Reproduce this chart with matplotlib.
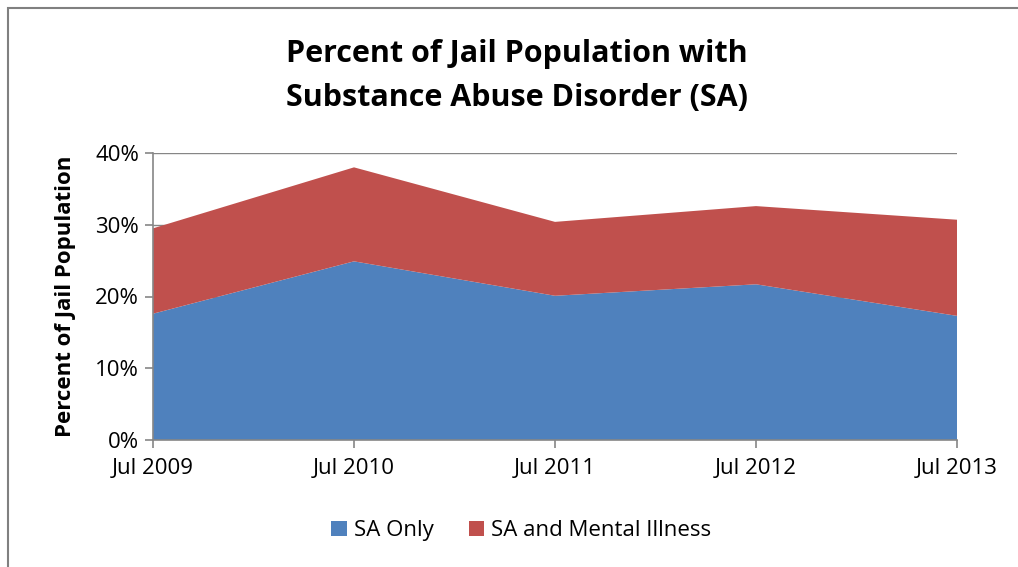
import matplotlib.pyplot as plt
from matplotlib.patches import Rectangle
from matplotlib.ticker import FuncFormatter

dates = ["Jul 2009", "Jul 2010", "Jul 2011", "Jul 2012", "Jul 2013"]
sa_only = [17.6, 24.9, 20.1, 21.7, 17.3]
sa_mental = [11.9, 13.1, 10.3, 10.9, 13.4]

plt.rcParams['font.family'] = ['Open Sans', 'DejaVu Sans']

fig = plt.figure(figsize=(10.18, 5.67), dpi=100)
# outer chart border (only top and left edges fall inside the image)
fig.patches.append(Rectangle((8 / 1018, -0.1), 1.2, 1 - 8 / 567 + 0.1, transform=fig.transFigure,
                             fill=False, edgecolor="#808080", linewidth=1.5))

ax = fig.add_axes([153 / 1018, 1 - 440 / 567, (957 - 153) / 1018, (440 - 153) / 567])
x = list(range(len(dates)))
ax.stackplot(x, sa_only, sa_mental, colors=["#4F81BD", "#C0504D"],
             labels=["SA Only", "SA and Mental Illness"], zorder=2)

ax.set_xlim(0, len(dates) - 1)
ax.set_ylim(0, 40)
ax.set_yticks([0, 10, 20, 30, 40])
ax.yaxis.set_major_formatter(FuncFormatter(lambda v, p: f"{v:.0f}%"))
ax.set_xticks(x)
ax.set_xticklabels(dates)
ax.grid(axis="y", color="#868686", linewidth=1, zorder=0)
ax.set_axisbelow(True)

for s in ["top", "right"]:
    ax.spines[s].set_visible(False)
for s in ["left", "bottom"]:
    ax.spines[s].set_color("#868686")
    ax.spines[s].set_linewidth(1.2)
ax.tick_params(axis="both", colors="#868686", labelcolor="black", labelsize=16, length=6, width=1.2)
ax.tick_params(axis="x", pad=7)
ax.tick_params(axis="y", pad=4)

ax.set_ylabel("Percent of Jail Population", fontsize=16, fontweight="bold", labelpad=14)
fig.text(0.508, 0.866, "Percent of Jail Population with\nSubstance Abuse Disorder (SA)",
         ha="center", va="center", fontsize=22, fontweight="bold", linespacing=1.62)

fig.legend(loc="center", bbox_to_anchor=(0.512, 0.064), ncol=2, frameon=False, fontsize=16,
           handlelength=0.7, handleheight=0.7, handletextpad=0.3, columnspacing=1.6)

fig.savefig("out.png", dpi=100)
